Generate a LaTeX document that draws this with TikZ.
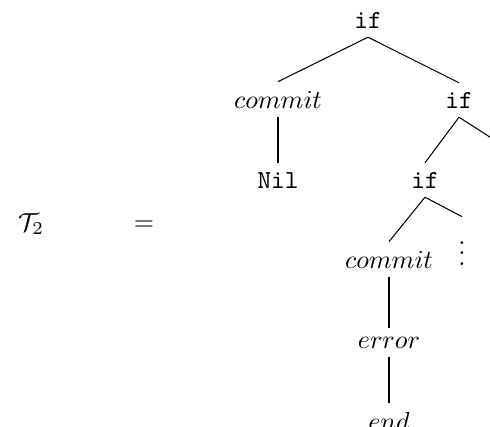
\documentclass[tikz,border=0pt]{standalone}
\usepackage{amsmath}

\begin{document}
\begin{tikzpicture}[x=0.3846pt, y=-0.3846pt]
            \useasboundingbox (0,0) rectangle (490,426);
            \clip (0,0) rectangle (490,426);
            % linke Seite
            \node[anchor=base west] (lhs) at (9,231) {$\mathcal{T}_2$};
            \node[anchor=base] (eq) at (144,230) {$=$};
            % Baum
            \node[anchor=base] (if1) at (368,28) {\texttt{if}};
            \node[anchor=base] (commit1) at (278,108) {$commit$};
            \node[anchor=base] (if2) at (459,108) {\texttt{if}};
            \node[anchor=base] (nil) at (278,188) {\texttt{Nil}};
            \node[anchor=base] (if3) at (425,188) {\texttt{if}};
            \node[anchor=base] (commit2) at (389,268) {$commit$};
            \node[anchor=base] (dots) at (462,265) {$\vdots$};
            \node[anchor=base] (error) at (389,348) {$error$};
            \node[anchor=base] (end) at (389,430) {$end$};
            \coordinate (rest) at (521,157);
            \draw (if1.south) -- (commit1.north);
            \draw (if1.south) -- (if2.north);
            \draw (commit1.south) -- (nil.north);
            \draw (if2.south) -- (if3.north);
            \draw (if2.south) -- (rest);
            \draw (if3.south) -- (commit2.north);
            \draw (if3.south) -- (dots.north);
            \draw (commit2.south) -- (error.north);
            \draw (error.south) -- (end.north);
        \end{tikzpicture}
\end{document}
